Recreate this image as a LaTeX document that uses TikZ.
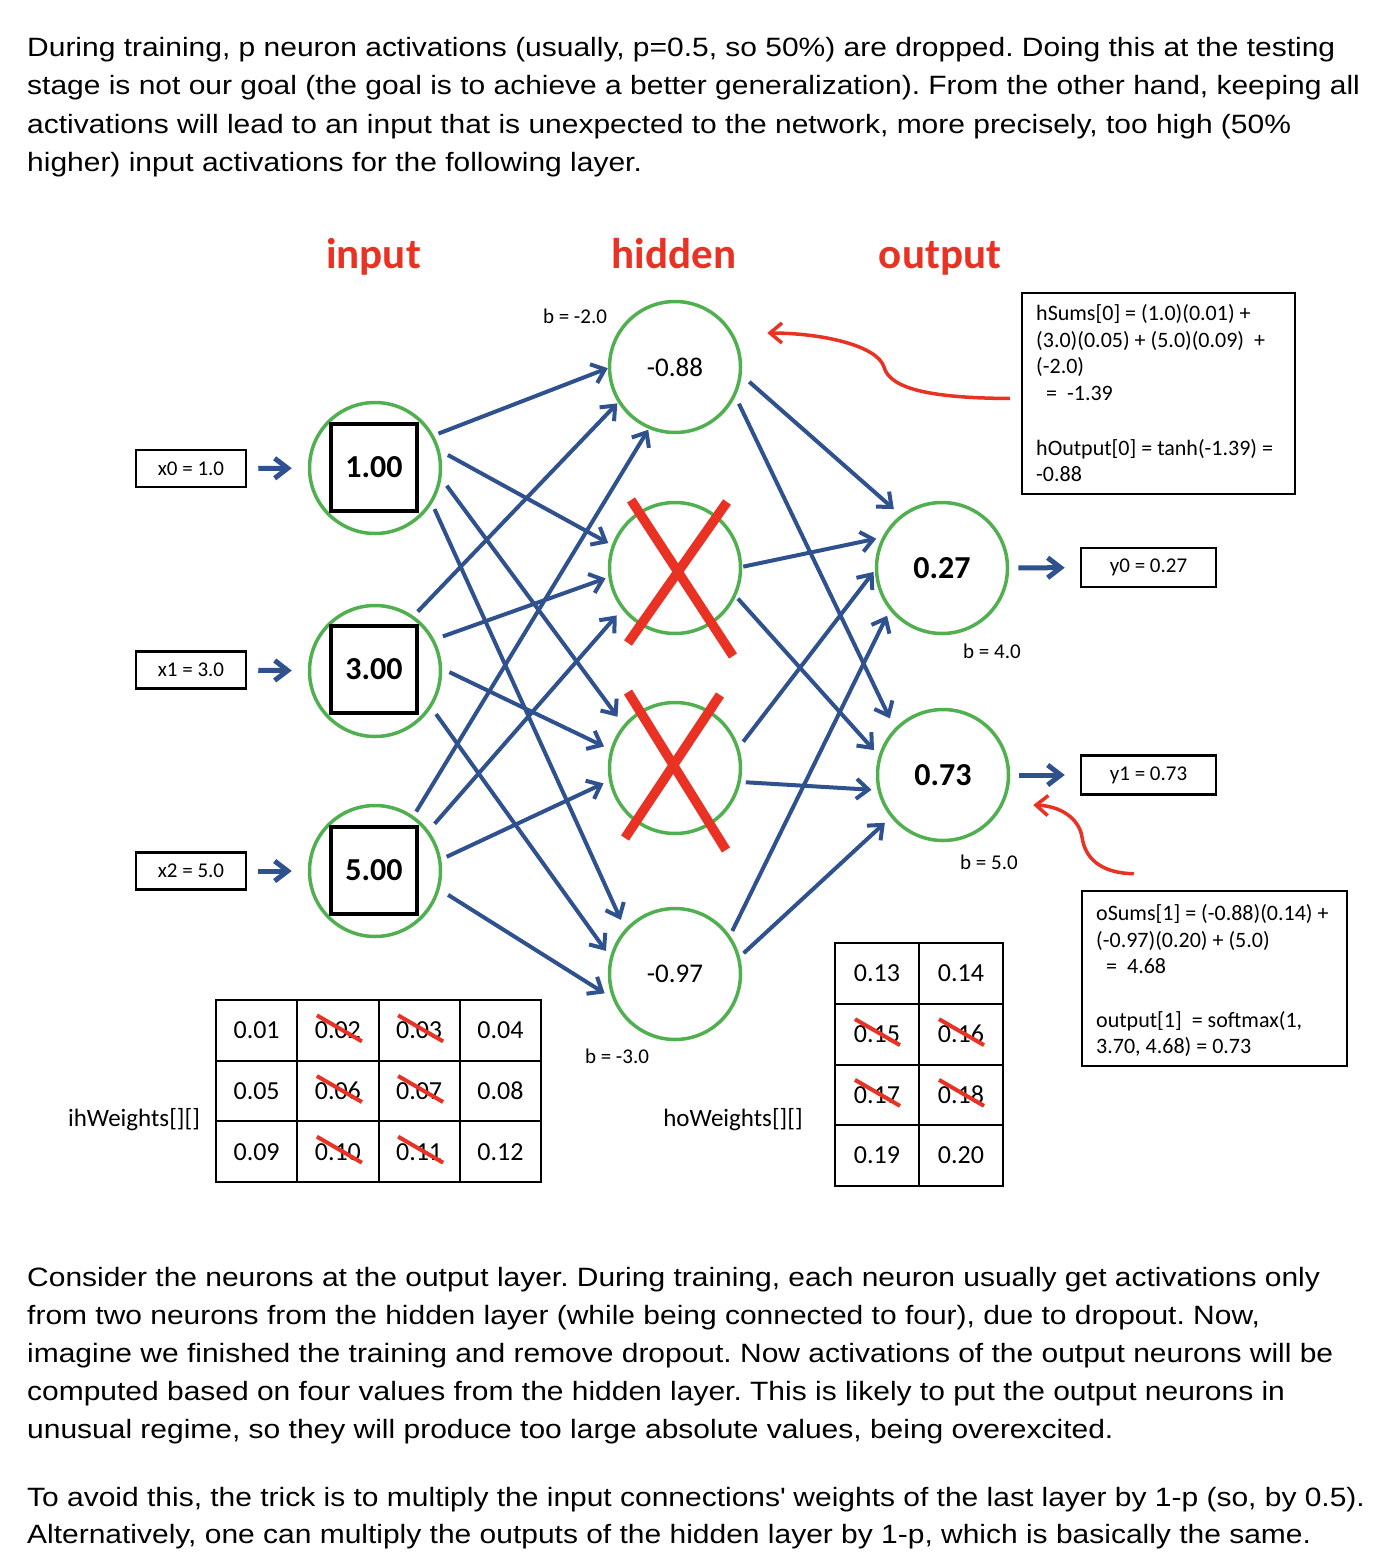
\documentclass[tikz,border=0pt]{standalone}
\usepackage{fontspec}
\setmainfont{Carlito}
\newfontfamily\para[FakeStretch=1.131]{Liberation Sans}
\usetikzlibrary{arrows.meta,calc}
\definecolor{nblue}{RGB}{47,82,143}
\definecolor{ngreen}{RGB}{80,176,80}
\definecolor{nred}{RGB}{233,50,35}
\newcommand\cnxline[6]{\draw[cnx,shorten <=#3pt,shorten >=#6pt] (#1.#2) -- (#4.#5);}
\frenchspacing
\begin{document}
\begin{tikzpicture}[x=1pt,y=-1pt,
  neuron/.style={circle,draw=ngreen,line width=3.5pt,minimum size=131pt,inner sep=0pt,font=\fontsize{27}{30}\selectfont},
  sq/.style={draw=black,line width=4pt,minimum width=86pt,minimum height=87pt,inner sep=0pt,font=\bfseries\fontsize{32}{36}\selectfont},
  obold/.style={font=\bfseries\fontsize{32}{36}\selectfont},
  iobox/.style={draw=black,line width=2.5pt,inner sep=0pt,font=\fontsize{21}{24}\selectfont},
  ebox/.style={draw=black,line width=2.5pt,inner sep=0pt},
  etxt/.style={anchor=base west,inner sep=0pt,font=\fontsize{22}{26}\selectfont},
  ptxt/.style={anchor=base west,inner sep=0pt,font=\para\fontsize{26.5}{38}\selectfont},
  ttl/.style={text=nred,inner sep=0pt,anchor=base,font=\bfseries\fontsize{43}{48}\selectfont},
  blab/.style={inner sep=0pt,font=\fontsize{21}{24}\selectfont},
  wlab/.style={inner sep=0pt,font=\fontsize{25}{28}\selectfont},
  cell/.style={draw=black,line width=2pt,inner sep=0pt,font=\fontsize{26}{30}\selectfont},
  cnx/.style={draw=nblue,line width=4pt,-{Straight Barb[length=12pt,width=20pt]}},
  bigcnx/.style={draw=nblue,line width=5pt,-{Straight Barb[length=13pt,width=20pt]}},
  strike/.style={draw=nred,line width=4pt},
  cross/.style={draw=nred,line width=9.5pt},
  callout/.style={draw=nred,line width=3.5pt,-{Straight Barb[length=12pt,width=20pt]}}
]
\useasboundingbox[fill=white] (0,0) rectangle (1384,1568);

% ---------- paragraphs ----------
\node[ptxt] (p1) at (27,57) {During training, p neuron activations (usually, p=0.5, so 50\%) are dropped. Doing this at the testing};
\node[ptxt] (p2) at (27,95) {stage is not our goal (the goal is to achieve a better generalization). From the other hand, keeping all};
\node[ptxt] (p3) at (27,133) {activations will lead to an input that is unexpected to the network, more precisely, too high (50\%};
\node[ptxt] (p4) at (27,171) {higher) input activations for the following layer.};

\node[ptxt] (q1) at (27,1286) {Consider the neurons at the output layer. During training, each neuron usually get activations only};
\node[ptxt] (q2) at (27,1324) {from two neurons from the hidden layer (while being connected to four), due to dropout. Now,};
\node[ptxt] (q3) at (27,1362) {imagine we finished the training and remove dropout. Now activations of the output neurons will be};
\node[ptxt] (q4) at (27,1400) {computed based on four values from the hidden layer. This is likely to put the output neurons in};
\node[ptxt] (q5) at (27,1438) {unusual regime, so they will produce too large absolute values, being overexcited.};
\node[ptxt] (q6) at (27,1506) {To avoid this, the trick is to multiply the input connections\textquotesingle{} weights of the last layer by 1-p (so, by 0.5).};
\node[ptxt] (q7) at (27,1543) {Alternatively, one can multiply the outputs of the hidden layer by 1-p, which is basically the same.};

% ---------- titles ----------
\node[ttl] (tin) at (373.5,268) {input};
\node[ttl] (thid) at (674,268) {hidden};
\node[ttl] (tout) at (940,268) {output};

% ---------- neurons ----------
\node[neuron] (i1) at (375,468) {};
\node[neuron] (i2) at (375,671) {};
\node[neuron] (i3) at (375,871) {};
\node[sq] (i1s) at (374,467.5) {1.00};
\node[sq] (i2s) at (374,669.5) {3.00};
\node[sq] (i3s) at (374,870.5) {5.00};

\node[neuron] (h1) at (675,367) {-0.88};
\node[neuron] (h2) at (675,568) {};
\node[neuron] (h3) at (675,768) {};
\node[neuron] (h4) at (675,974) {-0.97};

\node[neuron,obold] (o1) at (942,568) {0.27};
\node[neuron,obold] (o2) at (943,775) {0.73};

% ---------- input / output boxes ----------
\node[iobox,minimum width=110pt,minimum height=37pt] (x0) at (191,468.5) {x0 = 1.0};
\node[iobox,minimum width=110pt,minimum height=37pt] (x1) at (191,670) {x1 = 3.0};
\node[iobox,minimum width=110pt,minimum height=37pt] (x2) at (191,871) {x2 = 5.0};
\node[iobox,minimum width=135pt,minimum height=39pt] (y0) at (1148.5,567.5) {y0 = 0.27};
\node[iobox,minimum width=135pt,minimum height=39pt] (y1) at (1148.5,775) {y1 = 0.73};

\draw[bigcnx,shorten <=11pt,shorten >=16pt] (x0) -- (i1);
\draw[bigcnx,shorten <=11pt,shorten >=16pt] (x1) -- (i2);
\draw[bigcnx,shorten <=11pt,shorten >=16pt] (x2) -- (i3);
\draw[bigcnx,shorten <=9pt,shorten >=15pt] (o1) -- (y0);
\draw[bigcnx,shorten <=9pt,shorten >=15pt] (o2) -- (y1);

% ---------- input -> hidden ----------
\cnxline{i1}{29}{5}{h1}{181}{0}
\cnxline{i1}{15}{9}{h2}{160}{4}
\cnxline{i1}{-9}{9}{h3}{140}{10}
\cnxline{i1}{-32}{6}{h4}{138}{10}
\cnxline{i2}{55}{6}{h1}{212}{1}
\cnxline{i2}{28}{9}{h2}{188}{3}
\cnxline{i2}{2}{8}{h3}{164}{7}
\cnxline{i2}{-33}{8}{h4}{165}{7}
\cnxline{i3}{55}{5}{h1}{247}{1}
\cnxline{i3}{37}{9}{h2}{218}{8}
\cnxline{i3}{10}{6}{h3}{191}{6}
\cnxline{i3}{-16}{10}{h4}{201}{9}

% ---------- hidden -> output ----------
\cnxline{h1}{-7}{10}{o1}{128}{9}
\cnxline{h1}{-26}{8}{o2}{136}{11}
\cnxline{h2}{1}{1}{o1}{153}{6}
\cnxline{h2}{-25}{3}{o2}{163}{7}
\cnxline{h3}{18}{7}{o1}{182}{2}
\cnxline{h3}{-12}{5}{o2}{193}{6}
\cnxline{h4}{35}{5}{o1}{219}{6}
\cnxline{h4}{15}{5}{o2}{219}{8}

% ---------- dropout crosses ----------
\draw[cross] ([xshift=-44pt,yshift=68pt]h2.center) -- ([xshift=58pt,yshift=-88pt]h2.center);
\draw[cross] ([xshift=52pt,yshift=66pt]h2.center) -- ([xshift=-47pt,yshift=-75pt]h2.center);
\draw[cross] ([xshift=-47pt,yshift=76pt]h3.center) -- ([xshift=51pt,yshift=-82pt]h3.center);
\draw[cross] ([xshift=45pt,yshift=73pt]h3.center) -- ([xshift=-50pt,yshift=-70pt]h3.center);

% ---------- bias labels ----------
\node[blab] (b1) at (575,316) {b = -2.0};
\node[blab] (b2) at (992,651) {b = 4.0};
\node[blab] (b3) at (989,862) {b = 5.0};
\node[blab] (b4) at (617,1056) {b = -3.0};

% ---------- explanation boxes ----------
\node[ebox,minimum width=273pt,minimum height=201pt] (hsums) at (1158.5,393.5) {};
\node[etxt] (hs1) at (1036,320) {hSums[0] = (1.0)(0.01) +};
\node[etxt] (hs2) at (1036,347) {(3.0)(0.05) + (5.0)(0.09) \ +};
\node[etxt] (hs3) at (1036,373) {(-2.0)};
\node[etxt] (hs4) at (1046,400) {= \ -1.39};
\node[etxt] (hs5) at (1036,455) {hOutput[0] = tanh(-1.39) =};
\node[etxt] (hs6) at (1036,481) {-0.88};

\node[ebox,minimum width=265pt,minimum height=175pt] (osums) at (1214.5,978.5) {};
\node[etxt] (os1) at (1096,920) {oSums[1] = (-0.88)(0.14) +};
\node[etxt] (os2) at (1096,947) {(-0.97)(0.20) + (5.0)};
\node[etxt] (os3) at (1106,973) {= \ 4.68};
\node[etxt] (os4) at (1096,1027) {output[1] \ = softmax(1,};
\node[etxt] (os5) at (1096,1053) {3.70, 4.68) = 0.73};

% ---------- callout curves ----------
\draw[callout] ([xshift=-11pt,yshift=-5pt]hsums.west) .. controls (935,398) and (890,390) .. (884,367)
  .. controls (877,345) and (820,333) .. ([xshift=25pt,yshift=34pt]h1.east);
\draw[callout] ([xshift=53pt,yshift=16pt]osums.north west) .. controls (1100,873) and (1085,858) .. (1082,837)
  .. controls (1079,818) and (1060,806) .. ([xshift=23pt,yshift=-30pt]o2.east);

% ---------- weight tables ----------
\foreach \r in {1,2,3}{\foreach \c in {1,2,3,4}{
  \pgfmathtruncatemacro\n{(\r-1)*4+\c}
  \node[cell,minimum width=81.25pt,minimum height=60.67pt] (ih\r\c) at ({216+81.25*(\c-0.5)},{1000+60.67*(\r-0.5)}) {0.\ifnum\n<10 0\fi\n};
}}
\foreach \r in {1,2,3,4}{\foreach \c in {1,2}{
  \pgfmathtruncatemacro\n{12+(\r-1)*2+\c}
  \node[cell,minimum width=84pt,minimum height=60.75pt] (ho\r\c) at ({835+84*(\c-0.5)},{943+60.75*(\r-0.5)}) {0.\n};
}}
\foreach \r in {1,2,3}{\foreach \c in {2,3}{
  \draw[strike] ([xshift=-21pt,yshift=15pt]ih\r\c.center) -- ([xshift=24pt,yshift=-11pt]ih\r\c.center);
}}
\foreach \r in {2,3}{\foreach \c in {1,2}{
  \draw[strike] ([xshift=-22pt,yshift=15pt]ho\r\c.center) -- ([xshift=23pt,yshift=-11pt]ho\r\c.center);
}}
\node[wlab] (ihl) at (134,1120) {ihWeights[][]};
\node[wlab] (hol) at (733,1120) {hoWeights[][]};
\end{tikzpicture}
\end{document}
